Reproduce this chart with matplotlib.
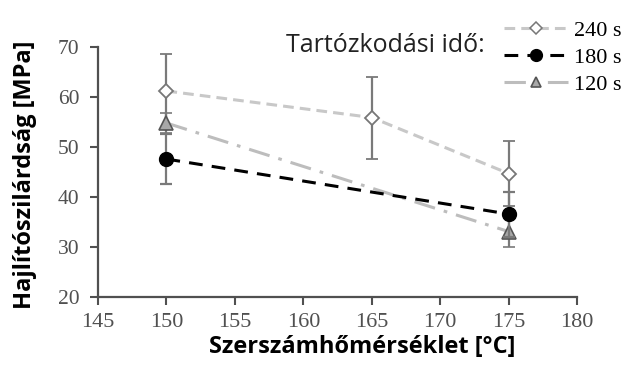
import matplotlib
matplotlib.use("Agg")
import matplotlib.pyplot as plt
from matplotlib.lines import Line2D

temps = [150, 165, 175]
temps_180 = [150, 175]
temps_120 = [150, 175]

s240 = [61.2, 55.9, 44.7]
s240_err = [7.3, 8.2, 6.5]
s180 = [47.6, 36.6]
s180_err = [5.0, 4.5]
s120 = [54.8, 33.1]
s120_err = [2.0, 3.0]

labels = ["240 s", "180 s", "120 s"]
xticks = [145, 150, 155, 160, 165, 170, 175, 180]
yticks = [20, 30, 40, 50, 60, 70]

fig = plt.figure(figsize=(6.24, 3.70), dpi=100)
ax = fig.add_axes([0.157, 0.197, 0.768, 0.676])

err_kw = dict(ecolor="#7a7a7a", elinewidth=1.6, capsize=4, capthick=1.6)

style240 = dict(color="#c8c8c8", lw=2.2, dashes=(3.5, 2), marker="D",
                mfc="white", mec="#777777", mew=1.3)
style180 = dict(color="black", lw=2.2, dashes=(4.5, 3), marker="o",
                mfc="black", mec="black")
style120 = dict(color="#bdbdbd", lw=2.2, dashes=(7, 3, 1.2, 3), marker="^",
                mfc="#a8a8a8", mec="#555555", mew=1.2)

ax.errorbar(temps, s240, yerr=s240_err, ms=7.5, zorder=3, **style240, **err_kw)
ax.errorbar(temps_180, s180, yerr=s180_err, ms=10, zorder=4, **style180, **err_kw)
ax.errorbar(temps_120, s120, yerr=s120_err, ms=9.5, zorder=3, **style120, **err_kw)

ax.set_xlim(145, 180)
ax.set_ylim(20, 70)
ax.set_xticks(xticks)
ax.set_yticks(yticks)

ax.set_xticklabels([str(t) for t in xticks], family="Liberation Serif",
                   size=16, color="#505050")
ax.set_yticklabels([str(t) for t in yticks], family="Liberation Serif",
                   size=15.5, color="#505050")

for side in ("top", "right"):
    ax.spines[side].set_visible(False)
for side in ("left", "bottom"):
    ax.spines[side].set_color("#505050")
    ax.spines[side].set_linewidth(1.6)
ax.tick_params(direction="out", length=5.5, width=1.5, color="#505050")
ax.tick_params(axis="x", pad=6)
ax.tick_params(axis="y", pad=8)

label_font = dict(family="Open Sans", size=17, weight="bold")
ax.set_xlabel("Szerszámhőmérséklet [°C]", **label_font)
ax.set_ylabel("Hajlítószilárdság [MPa]", **label_font)
ax.xaxis.set_label_coords(0.551, -0.152)
ax.yaxis.set_label_coords(-0.127, 0.49)

handles = [
    Line2D([], [], ms=6.5, **{**style240, "mew": 1.1}),
    Line2D([], [], ms=8.5, **style180),
    Line2D([], [], ms=7.5, **style120),
]
fig.legend(handles=handles, labels=labels,
           loc="upper right", bbox_to_anchor=(1.028, 1.0),
           frameon=False, handlelength=2.9, handletextpad=0.25,
           labelspacing=0.3,
           prop=dict(family="Liberation Serif", size=16))
fig.text(0.459, 0.878, "Tartózkodási idő:", family="Open Sans", size=18,
         color="#222222", va="center", ha="left")

fig.savefig("out.png", dpi=100)
